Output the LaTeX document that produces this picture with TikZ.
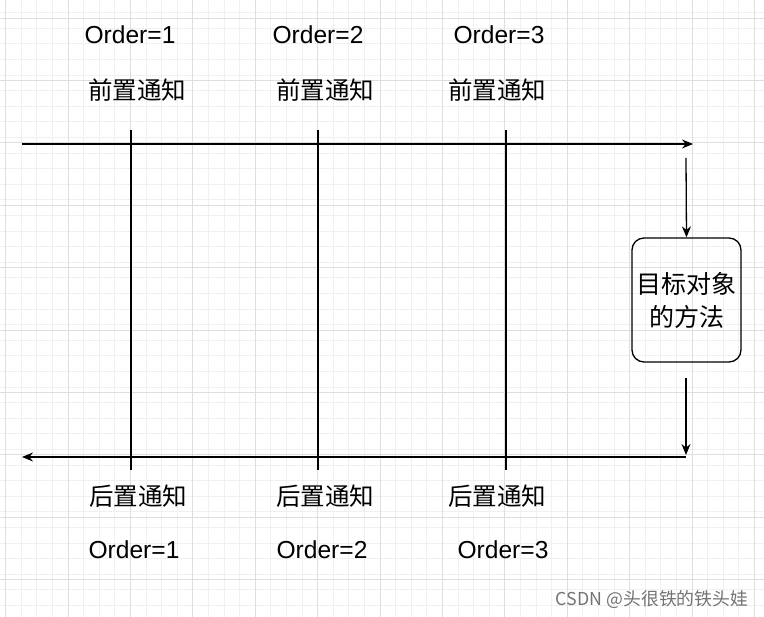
\documentclass[tikz,border=0pt]{standalone}
\usepackage{fontspec}
\setmainfont{Liberation Sans}
\newfontfamily\cjk{Noto Sans CJK SC}
\usetikzlibrary{arrows.meta}
\begin{document}
\begin{tikzpicture}[x=1pt,y=-1pt,
  lbl/.style={font=\fontsize{24.6}{28}\selectfont},
  clbl/.style={font=\cjk\fontsize{24.5}{28}\selectfont},
  ln/.style={line width=1.3pt},
  arr/.style={line width=1.3pt,-{Stealth[length=11pt,width=9pt]}}]
\useasboundingbox (0,0) rectangle (764,617);
\foreach \i in {0,...,48} \draw[black!6,line width=0.8pt] (5.6+15.6*\i,0) -- (5.6+15.6*\i,617);
\foreach \i in {0,...,39} \draw[black!6,line width=0.8pt] (0,12.6+15.6*\i) -- (764,12.6+15.6*\i);
\foreach \i in {0,...,12} \draw[black!13,line width=0.8pt] (5.6+62.4*\i,0) -- (5.6+62.4*\i,617);
\foreach \i in {0,...,9} \draw[black!13,line width=0.8pt] (0,18+62.4*\i) -- (764,18+62.4*\i);
\coordinate (tl) at (22,144); \coordinate (tr) at (693,144);
\coordinate (br) at (686,457); \coordinate (bl) at (22,457);
\draw[arr] (tl) -- (tr);
\draw[arr] (br) -- (bl);
\foreach \x/\n in {131/a,318/b,506/c}{
  \coordinate (\n1) at (\x,130); \coordinate (\n2) at (\x,470);
  \draw[ln] (\n1) -- (\n2);}
\node[draw,line width=1.3pt,rounded corners=12pt,minimum width=109pt,minimum height=124pt,
  align=center,font=\cjk\fontsize{25}{33}\selectfont,inner sep=0pt] (m) at (686.5,300) {目标对象\\的方法};
\coordinate (d1) at (686,158); \coordinate (d2) at (686,378); \coordinate (d3) at (686,455);
\draw[arr] (d1) -- (m.north);
\draw[arr] (d2) -- (d3);
\node[lbl] (o1) at (130,35) {Order=1};
\node[lbl] (o2) at (318,35) {Order=2};
\node[lbl] (o3) at (499,35) {Order=3};
\node[clbl] (p1) at (137,90) {前置通知};
\node[clbl] (p2) at (325,90) {前置通知};
\node[clbl] (p3) at (497,90) {前置通知};
\node[clbl] (q1) at (138,496) {后置通知};
\node[clbl] (q2) at (325,496) {后置通知};
\node[clbl] (q3) at (497,496) {后置通知};
\node[lbl] (r1) at (134,550) {Order=1};
\node[lbl] (r2) at (322,550) {Order=2};
\node[lbl] (r3) at (503,550) {Order=3};
\node[font=\cjk\fontsize{17.8}{20}\selectfont,text=black!55] (w) at (652,600) {CSDN @头很铁的铁头娃};
\end{tikzpicture}
\end{document}
